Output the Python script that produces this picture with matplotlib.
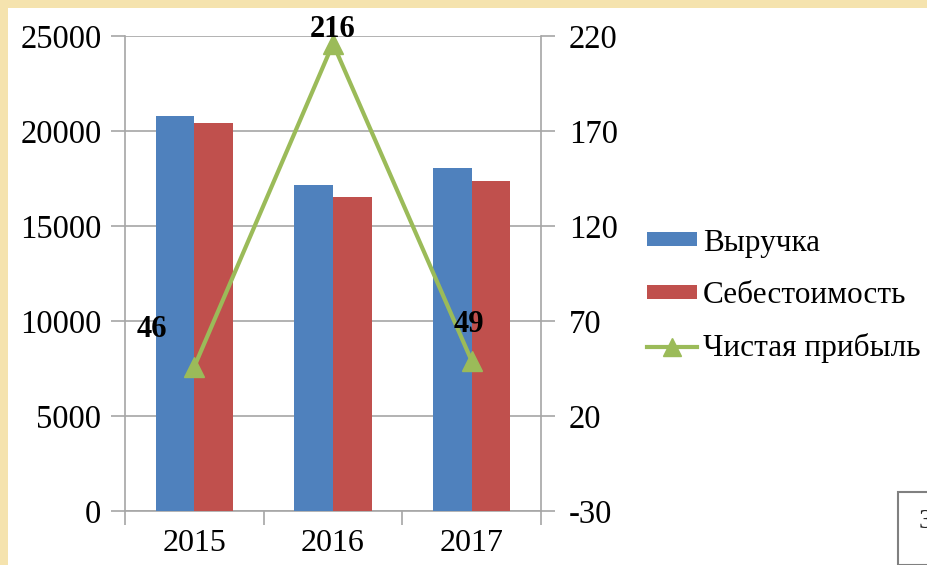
import matplotlib
matplotlib.use("Agg")
import matplotlib.pyplot as plt
from matplotlib.patches import Rectangle
from matplotlib.lines import Line2D
from matplotlib.patches import Patch
import numpy as np

years = ["2015", "2016", "2017"]
revenue = [20800, 17150, 18050]
cost = [20400, 16500, 17350]
profit = [46, 216, 49]
series_names = ["Выручка", "Себестоимость", "Чистая прибыль"]

left_ticks = [0, 5000, 10000, 15000, 20000, 25000]
right_ticks = [-30, 20, 70, 120, 170, 220]

BLUE = "#4F81BD"
RED = "#C0504D"
GREEN = "#9BBB59"
GRID = "#A6A6A6"

plt.rcParams['font.family'] = ['Liberation Serif', 'DejaVu Serif']

W, H = 928, 565
fig = plt.figure(figsize=(W / 100, H / 100), dpi=100)
fig.patch.set_facecolor("#F5E3AE")
# white slide area
fig.patches.append(Rectangle((8 / W, 0), 1, 1 - 8 / H, transform=fig.transFigure,
                             facecolor="white", edgecolor="none", zorder=-10))
# slide number box
fig.patches.append(Rectangle((898 / W, 0), 0.2, (H - 492) / H, transform=fig.transFigure,
                             facecolor="white", edgecolor="#808080", linewidth=1.5, zorder=-9))
fig.text(919 / W, 1 - 522 / H, "3", fontsize=20, ha="left", va="center", color="#222222")

ax = fig.add_axes([125 / W, 1 - 511 / H, (541 - 125) / W, (511 - 36) / H])
ax.set_zorder(2)
ax.set_facecolor("none")
x = np.arange(len(years))
bw = 0.28
ax.bar(x - bw / 2, revenue, width=bw, color=BLUE, zorder=3)
ax.bar(x + bw / 2, cost, width=bw, color=RED, zorder=3)
ax.set_xlim(-0.5, 2.5)
ax.set_ylim(left_ticks[0], left_ticks[-1])
ax.set_yticks(left_ticks)
ax.set_yticklabels([str(t) for t in left_ticks])
ax.yaxis.grid(True, color=GRID, linewidth=1.2, zorder=0)
ax.set_axisbelow(True)
ax.set_xticks(x)
ax.set_xticklabels(years)
ax.set_xticks([-0.5, 0.5, 1.5, 2.5], minor=True)
ax.tick_params(axis="x", which="major", length=0, labelsize=23, pad=13)
ax.tick_params(axis="x", which="minor", length=10, color=GRID, width=1.2)
ax.tick_params(axis="y", length=10, color=GRID, width=1.2, labelsize=23.5, pad=7)
for s in ["left", "bottom"]:
    ax.spines[s].set_color(GRID)
    ax.spines[s].set_linewidth(1.2)
ax.spines["top"].set_visible(False)
ax.spines["right"].set_visible(False)

ax2 = ax.twinx()
ax2.set_zorder(3)
ax2.set_facecolor("none")
ax2.plot(x, profit, color=GREEN, linewidth=3, marker="^", markersize=14, zorder=5)
ax2.set_ylim(right_ticks[0], right_ticks[-1])
ax2.set_yticks(right_ticks)
ax2.set_yticklabels([str(t) for t in right_ticks])
ax2.tick_params(axis="y", length=10, color=GRID, width=1.2, labelsize=23.5, pad=10)
ax2.spines["right"].set_color(GRID)
ax2.spines["right"].set_linewidth(1.2)
for s in ["left", "top", "bottom"]:
    ax2.spines[s].set_visible(False)

offsets = [(-42, 37), (0, 14), (-3, 36)]
for xi, v, off in zip(x, profit, offsets):
    ax2.annotate(str(v), (xi, v), textcoords="offset pixels", xytext=off,
                 ha="center", va="center", fontsize=22, fontweight="bold", zorder=6)

handles = [Patch(facecolor=BLUE, edgecolor="none"),
           Patch(facecolor=RED, edgecolor="none"),
           Line2D([0], [0], color=GREEN, linewidth=3, marker="^", markersize=13)]
fig.legend(handles, series_names, loc="center left", bbox_to_anchor=(647 / W, 1 - 296 / H),
           frameon=False, fontsize=22.5, handlelength=1.6, handleheight=0.3, handletextpad=0.2,
           labelspacing=0.75, borderpad=0, borderaxespad=0)

fig.savefig("out.png", dpi=100)
